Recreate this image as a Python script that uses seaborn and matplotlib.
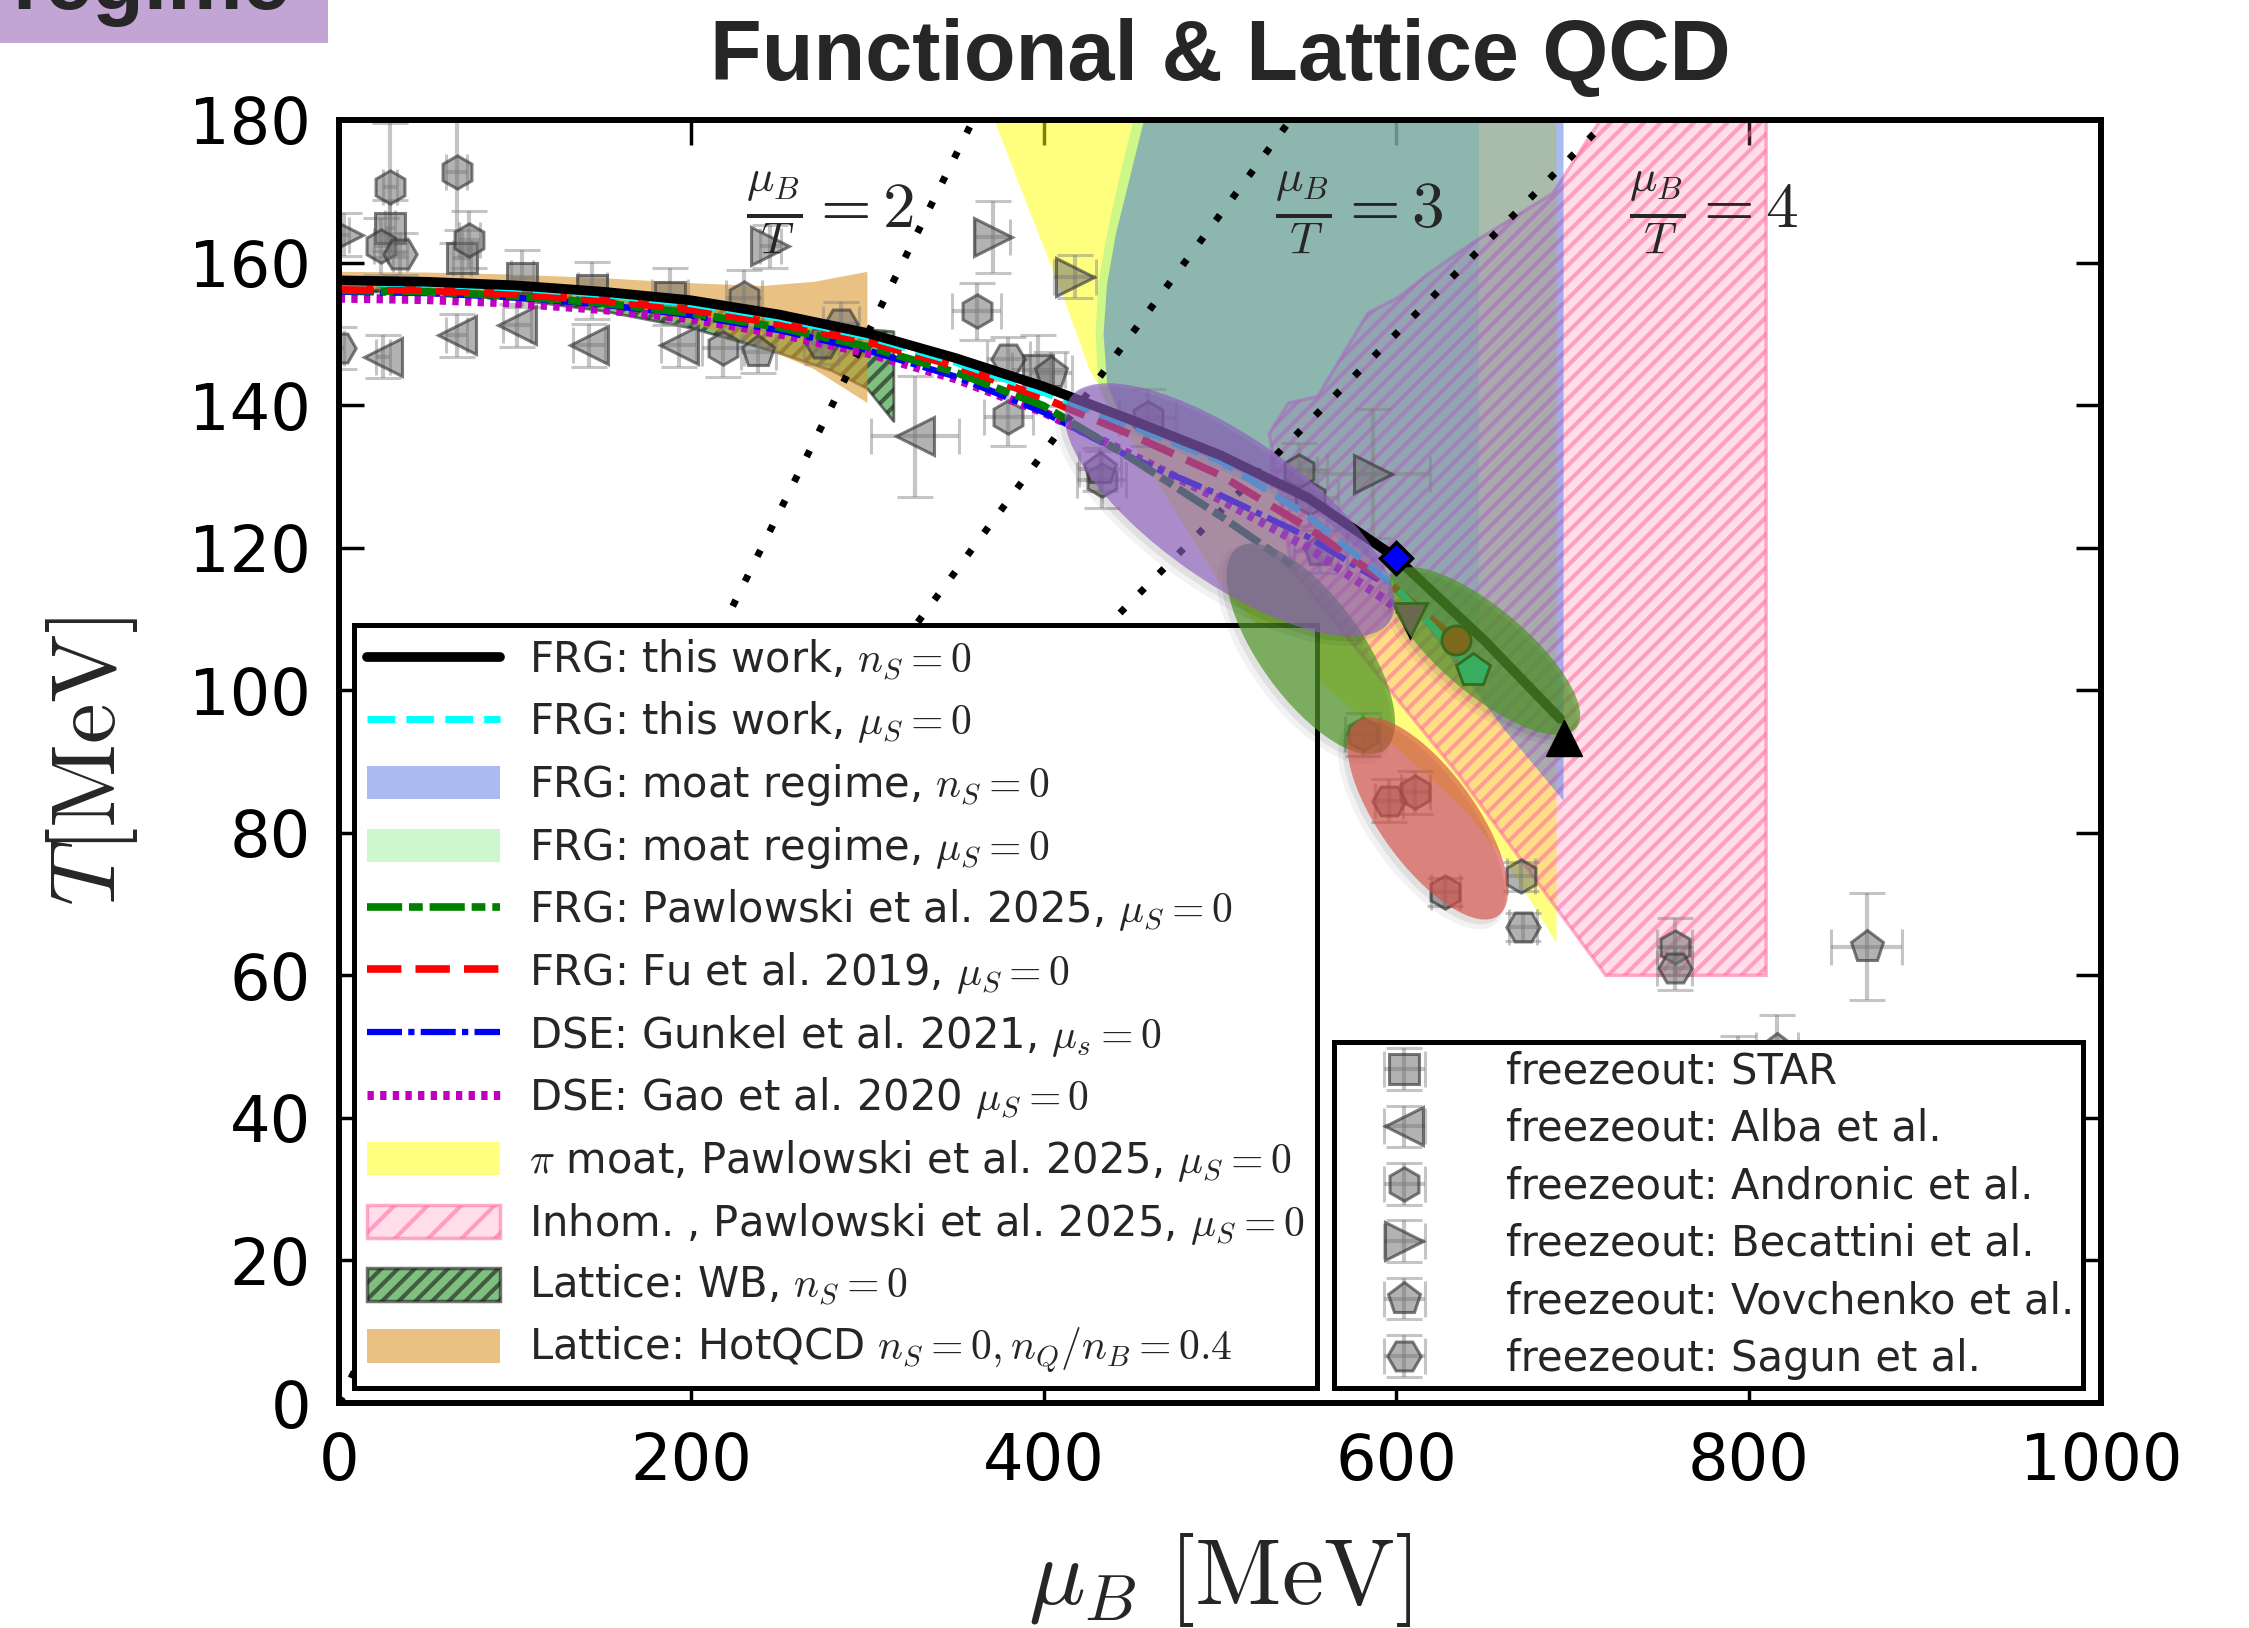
import matplotlib
matplotlib.use("Agg")
import matplotlib.pyplot as plt
from matplotlib.patches import Polygon, Ellipse, Patch, Rectangle
from matplotlib.lines import Line2D
from matplotlib.transforms import ScaledTranslation
import seaborn as sns

# ---------------- transition lines: mu_B [MeV] vs T [MeV] ----------------
mu_frg_nS = [0, 50, 100, 150, 200, 250, 300, 350, 400, 450, 500, 550, 600, 650, 693]
T_frg_nS = [157.5, 157.3, 156.8, 155.9, 154.7, 152.7, 150.1, 146.6, 142.6, 137.9, 133.0, 127.0, 118.6, 107.0, 96.0]

mu_frg_muS = [0, 50, 100, 150, 200, 250, 300, 350, 400, 450, 500, 550, 600, 643]
T_frg_muS = [157.2, 157.0, 156.4, 155.5, 154.2, 152.2, 149.6, 146.0, 141.8, 137.0, 132.2, 124.5, 114.4, 103.0]

mu_paw25 = [0, 50, 100, 150, 200, 250, 300, 350, 400, 450, 500, 541]
T_paw25 = [156.1, 155.9, 155.3, 154.3, 152.9, 150.9, 148.2, 144.6, 139.9, 132.5, 124.5, 117.5]

mu_fu19 = [0, 50, 100, 150, 200, 250, 300, 350, 400, 450, 500, 550, 600, 634]
T_fu19 = [156.3, 156.1, 155.6, 154.7, 153.4, 151.4, 148.9, 145.5, 141.0, 135.8, 130.2, 122.8, 114.2, 107.0]

mu_gunkel = [0, 50, 100, 150, 200, 250, 300, 350, 400, 450, 500, 550, 590]
T_gunkel = [155.9, 155.7, 155.1, 154.1, 152.6, 150.5, 147.7, 144.0, 139.0, 132.6, 127.4, 121.5, 115.5]

mu_gao = [0, 50, 100, 150, 200, 250, 300, 350, 400, 450, 500, 550, 595, 608]
T_gao = [155.0, 154.8, 154.3, 153.4, 152.1, 150.0, 147.3, 143.7, 139.0, 133.0, 126.8, 120.0, 112.5, 110.0]

# critical end points / line end markers (mu_B, T)
cep_this_nS = (695, 93.3)
cep_gunkel = (600, 118.5)
cep_fu19 = (634, 107.0)
cep_gao = (608, 109.8)
cep_this_muS = (643.5, 102.8)

# ---------------- lattice bands ----------------
mu_hot = [0, 50, 100, 150, 200, 240, 270, 300]
T_hot_hi = [158.7, 158.6, 158.3, 157.8, 157.1, 156.7, 157.3, 158.7]
T_hot_lo = [156.4, 156.1, 155.4, 154.1, 151.6, 148.2, 145.0, 140.3]

mu_wb = [0, 50, 100, 150, 200, 250, 280, 300, 315]
T_wb_hi = [157.8, 157.6, 157.0, 156.0, 154.5, 152.5, 151.5, 150.6, 150.3]
T_wb_lo = [156.0, 155.7, 154.8, 153.2, 150.8, 147.3, 144.8, 142.3, 137.7]

# ---------------- moat / inhomogeneous regions (outlines) ----------------
mu_pimoat = [365, 372, 390, 410, 426, 440, 460, 480, 504, 530, 560, 600, 640, 662, 680, 691, 691]
T_pimoat = [185, 180, 168.5, 156, 145, 139, 131, 123, 113.5, 107, 100.5, 92, 83, 76, 69, 64.5, 185]

mu_moat_muS = [453, 451, 443, 436, 431, 429.5, 431, 440, 500, 550, 600, 647, 647]
T_moat_muS = [185, 180, 172, 164, 157, 150, 143, 137, 131, 125, 114, 100, 185]

mu_moat_nS = [459, 457, 449, 441, 436, 434, 436, 445, 500, 550, 596, 662, 695, 695]
T_moat_nS = [185, 180, 172, 164, 157, 150, 143, 137.5, 132, 126, 116, 94.3, 84.5, 185]

mu_inhom = [719.5, 810, 810, 719, 636, 541, 528, 539, 555.5, 584, 602, 616, 643, 689, 716]
T_inhom = [185, 185, 60, 60, 88, 117, 136, 140.3, 141.2, 152.9, 155.2, 158, 162.7, 169.7, 180]

# ---------------- freeze-out data: mu_B, T, err(mu_B), err(T) ----------------
star_mu = [29, 70, 104, 144, 188, 397]
star_T = [164.8, 160.6, 157.8, 156.1, 155.2, 144.9]
star_mu_err = [3, 5, 6, 8, 10, 15]
star_T_err = [4, 4, 4, 4, 4, 5]

alba_mu = [25, 67, 101, 142, 193, 327]
alba_T = [146.8, 149.8, 151.2, 148.4, 148.4, 135.6]
alba_mu_err = [4, 6, 8, 9, 10, 25]
alba_T_err = [3, 3, 3, 3, 3, 8.5]

andronic_mu = [29, 67, 24, 74, 218, 230, 362, 380, 433, 459, 545, 551, 581, 611, 628, 671, 758]
andronic_T = [170.6, 172.7, 162.3, 163.2, 148.0, 155.0, 153.2, 138.3, 129.5, 138.2, 130.7, 127.0, 93.8, 85.7, 71.7, 73.9, 64.0]
andronic_mu_err = [4, 6, 4, 6, 12, 10, 14, 14, 14, 16, 16, 16, 10, 8, 8, 8, 10]
andronic_T_err = [9, 10, 4, 4, 4, 4, 4, 4, 4, 4, 4, 4, 3, 3, 2, 2, 4]

becattini_mu = [3, 245, 371, 418, 587]
becattini_T = [163.9, 162.3, 163.6, 158.0, 130.4]
becattini_mu_err = [3, 6, 10, 12, 32]
becattini_T_err = [3, 3, 5, 3, 9]

vovchenko_mu = [238, 404, 432, 557, 867, 816]
vovchenko_T = [147.5, 144.5, 131.0, 119.5, 64.0, 49.5]
vovchenko_mu_err = [10, 12, 12, 15, 20, 12]
vovchenko_T_err = [3, 3, 3, 3, 7.5, 5]

sagun_mu = [35, 0, 274, 285, 380, 596, 672, 758, 794]
sagun_T = [161.2, 148.0, 148.7, 151.4, 146.5, 84.5, 66.8, 61.0, 46.5]
sagun_mu_err = [4, 3, 10, 10, 12, 8, 8, 10, 10]
sagun_T_err = [3, 3, 3, 3, 3, 3, 2, 3, 5]

# ---------------- CEP-region blobs: centre (mu_B, T), size [in], angle ----------------
blob_paw = (551.6, 105.8, 2.5, 1.02, -54)
blob_this = (650.0, 105.5, 2.4, 0.86, -40)
blob_purple = (505.6, 125.3, 3.9, 1.45, -35)
blob_red = (618.0, 82.0, 2.4, 0.95, -54)

# ---------------- style ----------------
sns.set_theme(style="ticks")
plt.rcParams.update({
    "font.family": ["DejaVu Sans"],
    "mathtext.fontset": "cm",
    "hatch.linewidth": 3.0,
    "axes.edgecolor": "black",
    "xtick.color": "black",
    "ytick.color": "black",
    "lines.dash_capstyle": "butt",
})

fig = plt.figure(figsize=(22.49, 16.28), dpi=100)
ax = fig.add_axes([0.1506, 0.1382, 0.7836, 0.7881])
ax.set_xlim(0, 1000)
ax.set_ylim(0, 180)

c_yellow = (1.0, 1.0, 0.0, 0.5)
c_lgreen = (144 / 255, 238 / 255, 144 / 255, 0.45)
c_blue = (65 / 255, 105 / 255, 225 / 255, 0.45)
c_pink_face = (1.0, 0.41, 0.63, 0.22)
c_pink_edge = (1.0, 0.41, 0.63, 0.55)
c_wb_face = (0.0, 0.5, 0.0, 0.5)
c_wb_edge = (0.1, 0.1, 0.1, 0.6)
c_hot = (0.85, 0.60, 0.19, 0.6)
c_green = (0.0, 0.5, 0.0)
c_mag = (0.75, 0.0, 0.75)

ls_cyan = (0, (4, 1.6))
ls_green = (0, (4.6, 0.9, 1.8, 0.9))
ls_red = (0, (4.5, 1.85))
ls_blue = (0, (5.6, 1, 1, 1))
ls_mag = (0, (0.7, 0.7))

# regions
ax.add_patch(Polygon(list(zip(mu_pimoat, T_pimoat)), closed=True, facecolor=c_yellow,
                     edgecolor="none", zorder=1.0))
ax.add_patch(Polygon(list(zip(mu_moat_muS, T_moat_muS)), closed=True, facecolor=c_lgreen,
                     edgecolor="none", zorder=1.1))
ax.add_patch(Polygon(list(zip(mu_inhom, T_inhom)), closed=True, facecolor=c_pink_face,
                     edgecolor=c_pink_edge, hatch="//", linewidth=2.5, zorder=1.2))
ax.add_patch(Polygon(list(zip(mu_moat_nS, T_moat_nS)), closed=True, facecolor=c_blue,
                     edgecolor="none", zorder=1.3))

# lattice bands
ax.fill_between(mu_wb, T_wb_lo, T_wb_hi, facecolor=c_wb_face, edgecolor=c_wb_edge,
                hatch="//", linewidth=2.0, zorder=1.5)
ax.fill_between(mu_hot, T_hot_lo, T_hot_hi, facecolor=c_hot, edgecolor="none", zorder=1.6)

# freeze-out points
fo_face = (0.45, 0.45, 0.45, 0.55)
fo_edge = (0.22, 0.22, 0.22, 0.65)
fo_err = (0.5, 0.5, 0.5, 0.45)
freeze_sets = [
    ("freezeout: STAR", star_mu, star_T, star_mu_err, star_T_err, "s", 22),
    ("freezeout: Alba et al.", alba_mu, alba_T, alba_mu_err, alba_T_err, "<", 27),
    ("freezeout: Andronic et al.", andronic_mu, andronic_T, andronic_mu_err, andronic_T_err, "h", 24),
    ("freezeout: Becattini et al.", becattini_mu, becattini_T, becattini_mu_err, becattini_T_err, ">", 27),
    ("freezeout: Vovchenko et al.", vovchenko_mu, vovchenko_T, vovchenko_mu_err, vovchenko_T_err, "p", 24),
    ("freezeout: Sagun et al.", sagun_mu, sagun_T, sagun_mu_err, sagun_T_err, "H", 24),
]
fo_handles = []
for lab, m, t, me, te, mk, ms in freeze_sets:
    cont = ax.errorbar(m, t, xerr=me, yerr=te, fmt=mk, linestyle="none", ms=ms,
                       mfc=fo_face, mec=fo_edge, mew=2.2, ecolor=fo_err, elinewidth=3,
                       capsize=13, capthick=3, zorder=2.0, label=lab)
    fo_handles.append(cont)

# lines of constant mu_B/T
for mu_end in ([0, 360], [0, 540], [0, 720]):
    sns.lineplot(x=mu_end, y=[0, 180], ax=ax, color="black", linewidth=5.0,
                 linestyle=(0, (1, 3.0)), estimator=None, sort=False, zorder=2.5)

ax.text(279, 167, r"$\frac{\mu_B}{T}=2$", fontsize=47, ha="center", va="center", zorder=4)
ax.text(579, 167, r"$\frac{\mu_B}{T}=3$", fontsize=47, ha="center", va="center", zorder=4)
ax.text(780, 167, r"$\frac{\mu_B}{T}=4$", fontsize=47, ha="center", va="center", zorder=4)

# transition lines
line_specs = [
    (mu_gao, T_gao, c_mag, 6.5, ls_mag),
    (mu_gunkel, T_gunkel, "blue", 4.5, ls_blue),
    (mu_paw25, T_paw25, c_green, 5.5, ls_green),
    (mu_fu19, T_fu19, "red", 5.5, ls_red),
    (mu_frg_muS, T_frg_muS, "cyan", 5.0, ls_cyan),
    (mu_frg_nS, T_frg_nS, "black", 7.0, "-"),
]
for i, (m, t, c, lw, ls) in enumerate(line_specs):
    sns.lineplot(x=m, y=t, ax=ax, color=c, linewidth=lw, linestyle=ls,
                 estimator=None, sort=False, zorder=3 + 0.01 * i)

# end points that sit underneath the blobs
ax.plot(*cep_gao, marker="v", ms=25, mfc=c_mag, mec="black", mew=2, zorder=4.5)
ax.plot(*cep_fu19, marker="o", ms=21, mfc="red", mec="black", mew=2, zorder=4.5)
ax.plot(*cep_this_muS, marker="p", ms=25, mfc="cyan", mec="black", mew=2, zorder=4.5)


def blob(mu, T, w, h, ang, color, z):
    off = ScaledTranslation(mu, T, ax.transData)
    tr = fig.dpi_scale_trans + off
    for dx, dy, a, grow in [(-0.06, -0.06, 0.05, 0.08), (-0.04, -0.04, 0.07, 0.02)]:
        ax.add_patch(Ellipse((dx, dy), w + grow, h + grow, angle=ang, transform=tr,
                             facecolor=(0, 0, 0, a), edgecolor="none", zorder=z - 0.05))
    ax.add_patch(Ellipse((0, 0), w, h, angle=ang, transform=tr, facecolor=color,
                         edgecolor="none", zorder=z))


blob(*blob_paw, (80 / 255, 150 / 255, 40 / 255, 0.7), 6.0)
blob(*blob_this, (80 / 255, 150 / 255, 40 / 255, 0.7), 6.1)
blob(*blob_purple, (140 / 255, 95 / 255, 190 / 255, 0.65), 6.2)
blob(*blob_red, (215 / 255, 80 / 255, 70 / 255, 0.65), 6.3)

ax.plot(*cep_gunkel, marker="D", ms=16, mfc="blue", mec="black", mew=2.5, zorder=7)
ax.plot(*cep_this_nS, marker="^", ms=26, mfc="black", mec="black", zorder=7)

# axes cosmetics
ax.set_xticks([0, 200, 400, 600, 800, 1000])
ax.set_yticks([0, 20, 40, 60, 80, 100, 120, 140, 160, 180])
ax.tick_params(axis="both", which="major", direction="in", length=18, width=2.5,
               top=True, right=True, labelsize=46, pad=20)
for s in ax.spines.values():
    s.set_linewidth(4.3)
    s.set_color("black")
    s.set_zorder(8)

ax.set_xlabel(r"$\mu_B\ [\mathrm{MeV}]$", fontsize=68)
ax.set_ylabel(r"$T[\mathrm{MeV}]$", fontsize=66)
ax.xaxis.set_label_coords(0.5, -0.10)
ax.yaxis.set_label_coords(-0.113, 0.5)
ax.set_title("Functional & Lattice QCD", fontsize=61, fontweight="bold",
             family=["Liberation Sans", "DejaVu Sans"], pad=29)

# legends
h1 = [
    Line2D([], [], color="black", lw=7),
    Line2D([], [], color="cyan", lw=5, linestyle=ls_cyan),
    Patch(facecolor=c_blue, edgecolor="none"),
    Patch(facecolor=c_lgreen, edgecolor="none"),
    Line2D([], [], color=c_green, lw=5.5, linestyle=ls_green),
    Line2D([], [], color="red", lw=5.5, linestyle=ls_red),
    Line2D([], [], color="blue", lw=4.5, linestyle=ls_blue),
    Line2D([], [], color=c_mag, lw=6.5, linestyle=ls_mag),
    Patch(facecolor=c_yellow, edgecolor="none"),
    Patch(facecolor=c_pink_face, edgecolor=c_pink_edge, hatch="/", linewidth=2.5),
    Patch(facecolor=c_wb_face, edgecolor=c_wb_edge, hatch="//", linewidth=2.5),
    Patch(facecolor=c_hot, edgecolor="none"),
]
l1 = [
    r"FRG: this work, $n_S=0$",
    r"FRG: this work, $\mu_S=0$",
    r"FRG: moat regime, $n_S=0$",
    r"FRG: moat regime, $\mu_S=0$",
    r"FRG: Pawlowski et al. 2025, $\mu_S=0$",
    r"FRG: Fu et al. 2019, $\mu_S=0$",
    r"DSE: Gunkel et al. 2021, $\mu_s=0$",
    r"DSE: Gao et al. 2020 $\mu_S=0$",
    r"$\pi$ moat, Pawlowski et al. 2025, $\mu_S=0$",
    r"Inhom. , Pawlowski et al. 2025, $\mu_S=0$",
    r"Lattice: WB, $n_S=0$",
    r"Lattice: HotQCD $n_S=0, n_Q/n_B=0.4$",
]
leg1 = ax.legend(h1, l1, loc="lower left", bbox_to_anchor=(0.0088, 0.0117), borderaxespad=0,
                 fontsize=30, handlelength=3.2, handleheight=0.85, handletextpad=0.7,
                 labelspacing=0.40, borderpad=0.3, fancybox=False, framealpha=1,
                 edgecolor="black", facecolor="white")
leg1.get_frame().set_linewidth(3.6)
leg1.set_zorder(5)
ax.add_artist(leg1)

leg2 = ax.legend(fo_handles, [f[0] for f in freeze_sets], loc="lower right",
                 bbox_to_anchor=(0.9898, 0.0117), borderaxespad=0, fontsize=30,
                 handlelength=3.0, handletextpad=0.95, labelspacing=0.37, borderpad=0.2,
                 numpoints=1, fancybox=False, framealpha=1, edgecolor="black",
                 facecolor="white")
leg2.get_frame().set_linewidth(3.6)
leg2.set_zorder(5)

# header tab
fig.add_artist(Rectangle((0, 1 - 43 / 1628), 328 / 2249, 43 / 1628 + 0.01,
                         transform=fig.transFigure, facecolor="#c2a5d5", edgecolor="none"))
fig.text(12 / 2249, 1 - 9 / 1628, "regime", fontsize=61, fontweight="bold",
         family=["Liberation Sans", "DejaVu Sans"], ha="left", va="baseline")

fig.savefig("out.png", dpi=100)
